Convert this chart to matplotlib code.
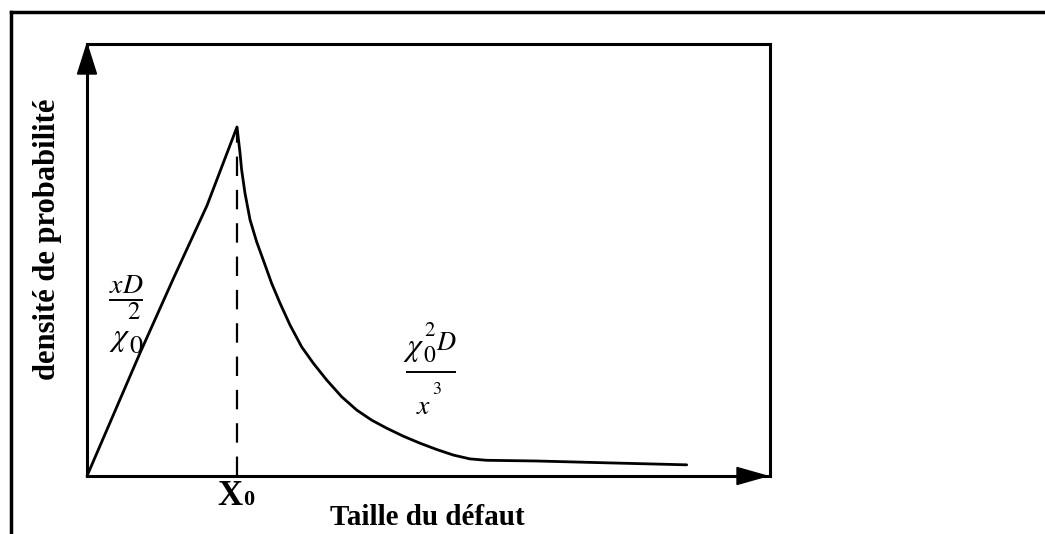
import matplotlib
matplotlib.use("Agg")
import matplotlib.pyplot as plt
from matplotlib.lines import Line2D
from matplotlib.patches import Polygon

W, H = 1045, 534
plt.rcParams['mathtext.fontset'] = 'stix'
plt.rcParams['lines.scale_dashes'] = False

# Defect size in units of X0, probability density in units of the peak value
rise_x = [0.0, 0.353, 0.575, 0.80, 1.0]
rise_y = [0.0, 0.352, 0.565, 0.775, 1.0]
tail_x = [1.0, 1.020, 1.031, 1.053, 1.087, 1.131, 1.175, 1.231, 1.287, 1.353,
          1.431, 1.509, 1.598, 1.698, 1.798, 1.898, 1.998, 2.109, 2.220, 2.331,
          2.442, 2.553, 2.665, 2.998, 3.442, 3.998]
tail_y = [1.0, 0.926, 0.877, 0.811, 0.734, 0.671, 0.619, 0.552, 0.495, 0.433,
          0.370, 0.323, 0.275, 0.227, 0.189, 0.160, 0.137, 0.114, 0.094, 0.076,
          0.060, 0.049, 0.045, 0.043, 0.038, 0.032]
x0 = 1.0
peak = 1.0

x_label = "Taille du défaut"
y_label = "densité de probabilité"

SERIF = "Liberation Serif"


def fx(px):
    return px / W


def fy(py):
    return (H - py) / H


fig = plt.figure(figsize=(W / 100, H / 100), dpi=100)
fig.patch.set_facecolor("white")

ax = fig.add_axes([fx(87), fy(476), 683 / W, 432 / H])
ax.set_xlim(0, 683 / 150)
ax.set_ylim(0, 432 / 349)
ax.set_xticks([])
ax.set_yticks([])
for s in ax.spines.values():
    s.set_linewidth(2.2)
    s.set_color("black")

# density curve: linear rise up to X0, then the decaying tail
ax.plot(rise_x + tail_x[1:], rise_y + tail_y[1:], color="black", lw=2.0,
        solid_joinstyle="round", solid_capstyle="round", clip_on=False, zorder=3)
ax.plot([x0, x0], [0, peak], color="black", lw=1.6, dashes=(14, 10), zorder=2)

# arrow heads on both axes
ax.add_patch(Polygon([[0, 1], [-9.5 / 683, 1 - 30 / 432], [9.5 / 683, 1 - 30 / 432]],
                     closed=True, transform=ax.transAxes, color="black",
                     clip_on=False, zorder=5))
ax.add_patch(Polygon([[680 / 683, 0], [650 / 683, 8.5 / 432], [650 / 683, -8.5 / 432]],
                     closed=True, transform=ax.transAxes, color="black",
                     clip_on=False, zorder=5))

# outer frame (left and top edges)
fig.add_artist(Line2D([fx(11), fx(11)], [0, fy(12)], transform=fig.transFigure,
                      color="black", lw=2.5))
fig.add_artist(Line2D([fx(11), 1], [fy(12), fy(12)], transform=fig.transFigure,
                      color="black", lw=2.5))

# axis labels
fig.text(fx(48), fy(239), y_label, rotation=90, ha="center", va="center",
         fontsize=22, fontfamily=SERIF, fontweight="bold")
fig.text(fx(330), fy(525), x_label, ha="left", va="baseline",
         fontsize=21, fontfamily=SERIF, fontweight="bold")
fig.text(fx(217), fy(505), "X", ha="left", va="baseline",
         fontsize=25, fontfamily=SERIF, fontweight="bold")
fig.text(fx(243), fy(505), "0", ha="left", va="baseline",
         fontsize=16, fontfamily=SERIF, fontweight="bold")


def piece(s, cx, cy, size):
    fig.text(fx(cx), fy(cy), s, ha="center", va="center", fontsize=size)


def bar(xa, xb, y):
    fig.add_artist(Line2D([fx(xa), fx(xb)], [fy(y), fy(y)], transform=fig.transFigure,
                          color="black", lw=1.4))


# rising branch formula: xD / chi0^2
piece(r"$xD$", 126, 285, 20)
bar(110, 142, 300)
piece(r"$\chi$", 120, 339, 23)
piece(r"$\mathrm{2}$", 134, 312, 18)
piece(r"$\mathrm{0}$", 136, 346, 19)

# decaying branch formula: chi0^2 D / x^3
piece(r"$\chi$", 414, 349, 23)
piece(r"$\mathrm{2}$", 430, 330, 15)
piece(r"$\mathrm{0}$", 430, 355, 17)
piece(r"$D$", 446, 343, 19)
bar(407, 455, 372)
piece(r"$x$", 424, 406, 20)
piece(r"$\mathrm{3}$", 437, 389, 13)

fig.savefig("out.png", dpi=100, facecolor="white")
